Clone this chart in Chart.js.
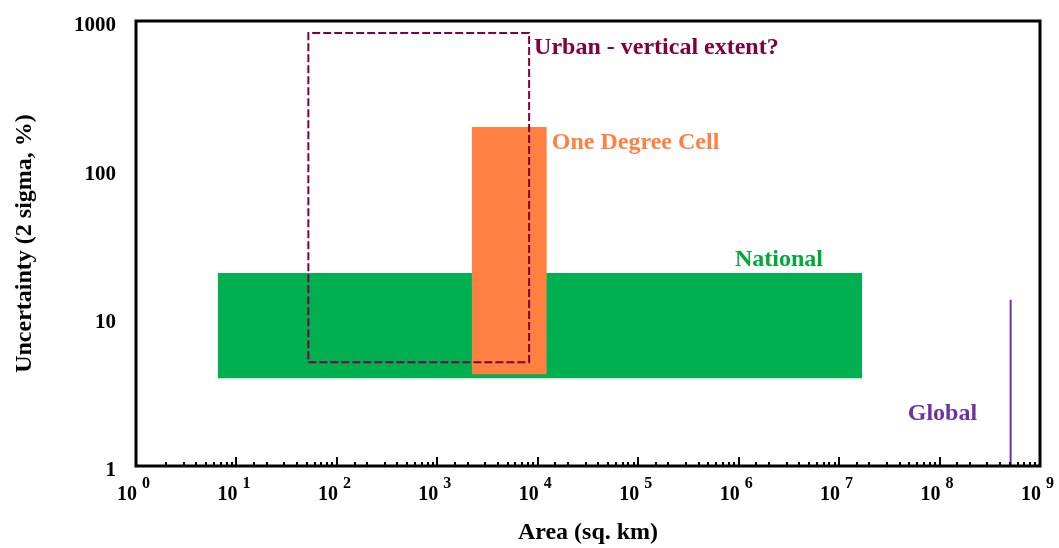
<!DOCTYPE html>
<html>
<head>
<meta charset="utf-8">
<script src="https://cdn.jsdelivr.net/npm/chart.js@4"></script>
<style>
  body { margin: 0; background: #fff; }
</style>
</head>
<body>
<canvas id="myChart" width="1059" height="548"></canvas>
<script>
// ------------------ data ------------------//
var nationalArea = [6.5, 1.7e7];        // sq. km, left/right
var nationalUnc = [3.9, 20];            // %, bottom/top
var cellArea = [2200, 12300];
var cellUnc = [4.15, 193];
var urbanArea = [52, 8200];
var urbanUnc = [5.0, 830];
var globalArea = [5.1e8];
var globalUnc = [1, 13.2];

var xDecades = [0, 1, 2, 3, 4, 5, 6, 7, 8, 9];
var yTickLabels = ['1', '10', '100', '1000'];

// text labels: [text, colour, x value, y value]
var notes = [
    ['Urban - vertical extent?', '#800040', urbanArea[1], 680],
    ['One Degree Cell', '#FF8040', cellArea[1], 155],
    ['National', '#00A838', 8.2e5, 25.3],
    ['Global', '#7030A0', 4.3e7, 2.31]
];

var FONT = '"Liberation Serif", "Times New Roman", serif';

// box as closed outline
function outline(xs, ys) {
    return [
        { x: xs[0], y: ys[0] }, { x: xs[1], y: ys[0] },
        { x: xs[1], y: ys[1] }, { x: xs[0], y: ys[1] },
        { x: xs[0], y: ys[0] }
    ];
}

// draws the frame, x tick marks, 10^n labels and text notes
var decor = {
    id: 'decor',
    afterDraw: function (chart) {
        var ctx = chart.ctx;
        var a = chart.chartArea;
        var xs = chart.scales.x;
        var ys = chart.scales.y;
        ctx.save();

        // tick marks pointing up from the x axis
        ctx.strokeStyle = '#000';
        ctx.lineWidth = 2;
        xs.ticks.forEach(function (t) {
            var lg = Math.log10(t.value);
            var major = Math.abs(lg - Math.round(lg)) < 1e-9;
            var px = Math.round(xs.getPixelForValue(t.value));
            ctx.beginPath();
            ctx.moveTo(px, a.bottom);
            ctx.lineTo(px, a.bottom - (major ? 9 : 4));
            ctx.stroke();
        });

        // frame
        ctx.lineWidth = 3;
        ctx.strokeRect(a.left, a.top, a.right - a.left, a.bottom - a.top);

        // 10^n labels
        ctx.fillStyle = '#000';
        xDecades.forEach(function (d) {
            var px = xs.getPixelForValue(Math.pow(10, d));
            ctx.font = 'bold 20px ' + FONT;
            ctx.textAlign = 'right';
            ctx.textBaseline = 'alphabetic';
            ctx.fillText('10', px + 1, 500);
            ctx.font = 'bold 16px ' + FONT;
            ctx.textAlign = 'left';
            ctx.fillText(String(d), px + 6, 488);
        });

        // notes
        ctx.font = 'bold 24px ' + FONT;
        ctx.textAlign = 'left';
        ctx.textBaseline = 'middle';
        notes.forEach(function (n) {
            ctx.fillStyle = n[1];
            ctx.fillText(n[0], xs.getPixelForValue(n[2]) + 5, ys.getPixelForValue(n[3]) + 2);
        });
        ctx.restore();
    }
};

new Chart('myChart', {
    type: 'scatter',
    data: {
        datasets: [
            {
                label: 'Urban',
                data: outline(urbanArea, urbanUnc),
                showLine: true,
                borderColor: '#800040',
                borderWidth: 2,
                borderDash: [8, 3],
                pointRadius: 0,
                fill: false
            },
            {
                label: 'Global',
                data: [{ x: globalArea[0], y: globalUnc[0] }, { x: globalArea[0], y: globalUnc[1] }],
                showLine: true,
                borderColor: '#7030A0',
                borderWidth: 2,
                pointRadius: 0,
                fill: false
            },
            {
                label: 'One Degree Cell',
                data: [{ x: cellArea[0], y: cellUnc[1] }, { x: cellArea[1], y: cellUnc[1] }],
                showLine: true,
                borderColor: 'rgba(0,0,0,0)',
                backgroundColor: '#FF8040',
                pointRadius: 0,
                fill: { value: cellUnc[0] }
            },
            {
                label: 'National',
                data: [{ x: nationalArea[0], y: nationalUnc[1] }, { x: nationalArea[1], y: nationalUnc[1] }],
                showLine: true,
                borderColor: 'rgba(0,0,0,0)',
                backgroundColor: '#00B050',
                pointRadius: 0,
                fill: { value: nationalUnc[0] }
            }
        ]
    },
    options: {
        responsive: false,
        animation: false,
        layout: { padding: { left: 0, right: 19, top: 21, bottom: 0 } },
        plugins: {
            legend: { display: false },
            tooltip: { enabled: false }
        },
        scales: {
            x: {
                type: 'logarithmic',
                min: 1,
                max: 1e9,
                grid: { display: false },
                border: { display: false },
                ticks: { display: false },
                afterFit: function (s) {
                    s.height = 82;
                    s.paddingLeft = 0;
                    s.paddingRight = 0;
                },
                title: {
                    display: true,
                    text: 'Area (sq. km)',
                    color: '#000',
                    font: { family: FONT, size: 24, weight: 'bold' },
                    padding: { top: 0, bottom: 1 }
                }
            },
            y: {
                type: 'logarithmic',
                min: 1,
                max: 1000,
                grid: { display: false },
                border: { display: false },
                ticks: {
                    color: '#000',
                    padding: 12,
                    labelOffset: 5,
                    font: { family: FONT, size: 21, weight: 'bold' },
                    callback: function (v) {
                        var i = yTickLabels.indexOf(String(v));
                        return i >= 0 ? yTickLabels[i] : null;
                    }
                },
                afterFit: function (s) {
                    s.width = 136;
                    s.paddingTop = 0;
                    s.paddingBottom = 0;
                },
                title: {
                    display: true,
                    text: 'Uncertainty (2 sigma, %)',
                    color: '#000',
                    font: { family: FONT, size: 24, weight: 'bold' },
                    padding: { top: 10, bottom: 0 }
                }
            }
        }
    },
    plugins: [decor]
});
</script>
</body>
</html>
